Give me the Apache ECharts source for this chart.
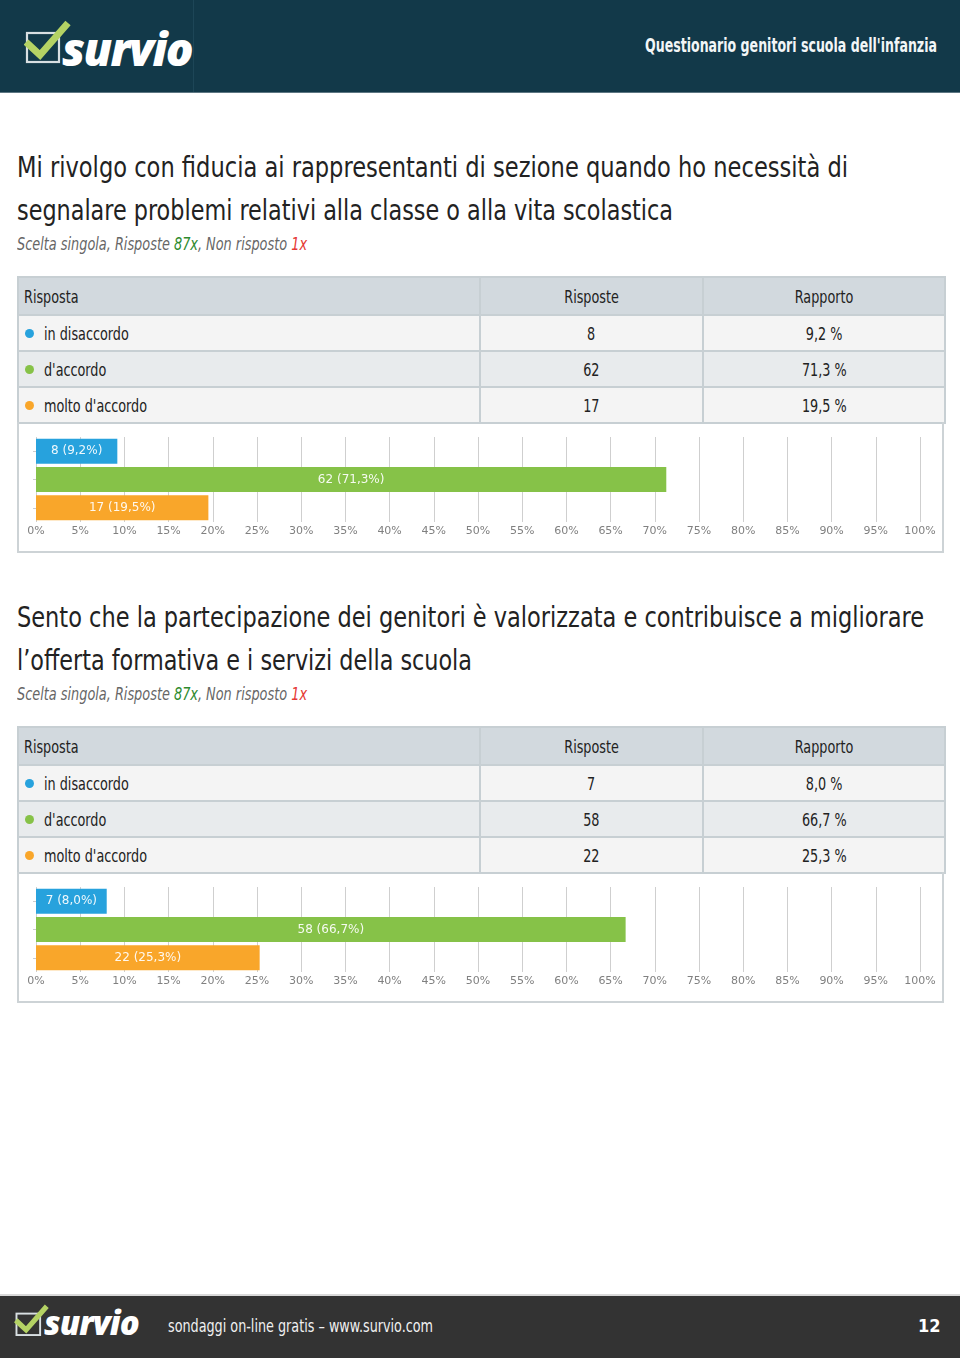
<!DOCTYPE html>
<html><head><meta charset="utf-8">
<script src="https://cdn.jsdelivr.net/npm/echarts@6/dist/echarts.min.js"></script>
<style>
html,body{margin:0;padding:0;background:#fff;}
body{width:960px;height:1358px;position:relative;overflow:hidden;font-family:"DejaVu Sans Condensed","Liberation Sans Narrow",sans-serif;}
#header{position:absolute;left:0;top:0;width:960px;height:93px;background:#123949;}
#header .sep{position:absolute;left:193px;top:0;width:1px;height:93px;background:#1d4657;}
#header .hline{position:absolute;left:0;top:92px;width:960px;height:1px;background:#5d7783;}
.fit{display:inline-block;white-space:nowrap;}
#htitle{position:absolute;left:645px;top:33px;font-size:20px;font-weight:bold;color:#f2f6f7;}
.logo{position:absolute;}
.logo .txt{position:absolute;font-family:"Open Sans","DejaVu Sans",sans-serif;font-weight:800;font-style:italic;color:#fff;white-space:nowrap;}
#footer{position:absolute;left:0;top:1294px;width:960px;height:64px;background:#333;border-top:2px solid #d9d9d9;box-sizing:border-box;}
#ftext{position:absolute;left:168px;top:1315px;font-size:18px;color:#f0f0f0;}
#fnum{position:absolute;left:918px;top:1315px;font-size:18px;font-weight:bold;color:#fff;}
.qline{position:absolute;left:17px;font-size:28.5px;line-height:43px;color:#222;}
.qsub{position:absolute;left:17px;font-size:18.5px;line-height:22px;font-style:italic;color:#666;}
.qsub .g{color:#2e8b2e;} .qsub .r{color:#e53935;}
table.t{position:absolute;left:17px;border-collapse:collapse;width:927px;font-size:18px;color:#222;table-layout:fixed;}
table.t td{border:2px solid #c7cfd3;padding:0;height:34px;white-space:nowrap;}
table.t tr.h td{background:#d2d9de;height:36px;}
table.t tr.a td{background:#f4f4f4;}
table.t tr.b td{background:#e8ebed;}
table.t td.c{text-align:center;}
table.t td.l{padding-left:5px;}
table.t td span.s{display:inline-block;transform:scaleX(0.79);}
table.t td.l span.s{transform-origin:left center;}
.dot{display:inline-block;width:9px;height:9px;border-radius:50%;margin-left:1px;margin-right:10px;vertical-align:2px;}
.cbox{position:absolute;left:17px;width:927px;height:131px;border:2px solid #cdd3d6;border-top:none;box-sizing:border-box;}
.chart{position:absolute;left:17px;width:927px;height:131px;}
</style></head>
<body>
<div id="header"><div class="sep"></div><div class="hline"></div></div>
<div class="logo" style="left:24px;top:18px;">
 <svg width="48" height="46" viewBox="0 0 48 46" style="position:absolute;left:0;top:2px">
  <rect x="3" y="13" width="32" height="29" fill="none" stroke="#d8dfe2" stroke-width="2.2"/>
  <path d="M2 22 L16 35 L44 3" fill="none" stroke="#b4d264" stroke-width="7" stroke-linejoin="miter" stroke-linecap="butt"/>
 </svg>
 <div class="txt" style="left:38px;top:-1px;font-size:46px;letter-spacing:-1.6px;">survio</div>
</div>
<div id="htitle"><span class="fit" data-w="292">Questionario genitori scuola dell'infanzia</span></div>

<div id="sections"></div>

<div id="footer"></div>
<div class="logo" style="left:14px;top:1303px;">
 <svg width="36" height="34" viewBox="0 0 48 46" style="position:absolute;left:0;top:1px">
  <rect x="3" y="13" width="32" height="29" fill="none" stroke="#d8dfe2" stroke-width="2.6"/>
  <path d="M2 22 L16 35 L44 3" fill="none" stroke="#b4d264" stroke-width="7"/>
 </svg>
 <div class="txt" style="left:30px;top:-3px;font-size:33px;letter-spacing:-0.9px;">survio</div>
</div>
<div id="ftext"><span class="fit" data-w="265">sondaggi on-line gratis – www.survio.com</span></div>
<div id="fnum">12</div>

<script>
// ---- data ----
const categories = ["in disaccordo", "d'accordo", "molto d'accordo"];
const colors = ["#27a2dd", "#86c248", "#f9a62a"];
const q1TitleLines = ["Mi rivolgo con fiducia ai rappresentanti di sezione quando ho necessità di",
                      "segnalare problemi relativi alla classe o alla vita scolastica"];
const q1Counts = [8, 62, 17];
const q1Pct = [9.2, 71.3, 19.5];
const q2TitleLines = ["Sento che la partecipazione dei genitori è valorizzata e contribuisce a migliorare",
                      "l’offerta formativa e i servizi della scuola"];
const q2Counts = [7, 58, 22];
const q2Pct = [8.0, 66.7, 25.3];
const answered = 87, notAnswered = 1;
const xTicks = [0,5,10,15,20,25,30,35,40,45,50,55,60,65,70,75,80,85,90,95,100];

// target text widths in the page (layout only)
const titleWidths = [[831, 656], [907, 455]];

const fmt = v => v.toFixed(1).replace('.', ',');

const questions = [
  {lines: q1TitleLines, counts: q1Counts, pct: q1Pct},
  {lines: q2TitleLines, counts: q2Counts, pct: q2Pct}
];

const root = document.getElementById('sections');
questions.forEach((q, qi) => {
  const off = qi * 450;
  q.lines.forEach((ln, li) => {
    const t = document.createElement('div');
    t.className = 'qline'; t.style.top = (146 + off + li * 43) + 'px';
    t.innerHTML = '<span class="fit" data-w="' + titleWidths[qi][li] + '"></span>';
    t.firstChild.textContent = ln;
    root.appendChild(t);
  });
  const s = document.createElement('div');
  s.className = 'qsub'; s.style.top = (233 + off) + 'px';
  s.innerHTML = '<span class="fit" data-w="290">Scelta singola, Risposte <span class="g">' + answered + 'x</span>, Non risposto <span class="r">' + notAnswered + 'x</span></span>';
  root.appendChild(s);
  const tb = document.createElement('table');
  tb.className = 't'; tb.style.top = (276 + off) + 'px';
  let html = '<colgroup><col style="width:462px"><col style="width:223px"><col style="width:242px"></colgroup>';
  html += '<tr class="h"><td class="l"><span class="s">Risposta</span></td><td class="c"><span class="s">Risposte</span></td><td class="c"><span class="s">Rapporto</span></td></tr>';
  categories.forEach((c, i) => {
    html += '<tr class="' + (i % 2 === 0 ? 'a' : 'b') + '"><td class="l"><span class="dot" style="background:' + colors[i] + '"></span><span class="s">' + c +
      '</span></td><td class="c"><span class="s">' + q.counts[i] + '</span></td><td class="c"><span class="s">' + fmt(q.pct[i]) + ' %</span></td></tr>';
  });
  tb.innerHTML = html;
  root.appendChild(tb);
  const box = document.createElement('div');
  box.className = 'cbox'; box.style.top = (422 + off) + 'px';
  root.appendChild(box);
  const ch = document.createElement('div');
  ch.className = 'chart'; ch.style.top = (422 + off) + 'px';
  root.appendChild(ch);

  const chart = echarts.init(ch, null, {renderer: 'canvas'});
  chart.setOption({
    animation: false,
    grid: {left: 19, right: 24, top: 15, bottom: 31},
    xAxis: {
      type: 'value', min: 0, max: 100, interval: 5,
      axisLine: {show: false}, axisTick: {show: false},
      splitLine: {show: true, lineStyle: {color: '#cfcfcf', width: 1}},
      axisLabel: {formatter: '{value}%', color: '#808080', fontSize: 11, fontFamily: 'DejaVu Sans', margin: 4,
        customValues: xTicks}
    },
    yAxis: {
      type: 'category', data: categories, inverse: true,
      axisLine: {show: false},
      axisTick: {show: true, alignWithLabel: true, length: 3, lineStyle: {color: '#cccccc'}},
      axisLabel: {show: false}
    },
    series: [{
      type: 'bar', barWidth: 25,
      data: q.pct.map((v, i) => ({value: v, itemStyle: {color: colors[i]}})),
      label: {
        show: true, position: 'inside', color: 'rgba(255,255,255,0.92)', fontSize: 12, fontFamily: 'DejaVu Sans',
        formatter: p => q.counts[p.dataIndex] + ' (' + fmt(q.pct[p.dataIndex]) + '%)'
      }
    }]
  });
});

// horizontally fit text runs to the reference widths
document.querySelectorAll('.fit').forEach(el => {
  const w = el.getBoundingClientRect().width;
  const target = +el.dataset.w;
  if (w > 0 && target) {
    el.style.transformOrigin = 'left center';
    el.style.transform = 'scaleX(' + (target / w).toFixed(4) + ')';
  }
});
</script>
</body></html>
